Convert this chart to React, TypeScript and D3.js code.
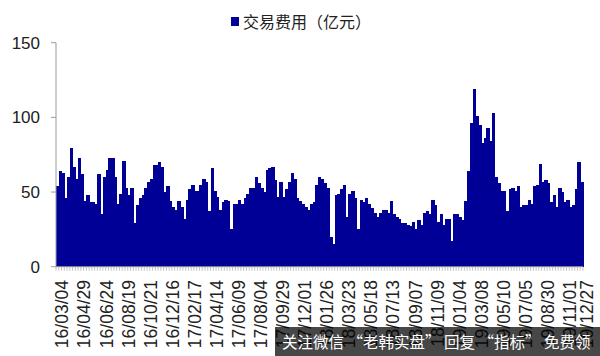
import React from "react";
import * as d3 from "d3";

const leftValues = [54,64,63,46,60,79.5,67,59,73,62,44,48,43,43,42,62,35,60,65,73,73,60,42,49,71,53,48,53,29,41,46,48,53,57,59,68,68,70,67,50,54,44,40,38,44,40,32,45,52,55,51,51,55,59,57,37,66,51,47,38,43,45,44,25,42,42,45,42,46,49,53,53,60,56,53,50,65,66,67,58,47,57,47,52,57,63,59,46];
const rightValues = [44,42,40,38,42,43,55,60,59,56,53,20,15,48,49,52,55,33,49,51,46,25,45,43,46,42,39,36,33,36,38,38,36,44,35,33,32,29,29,28,27,30,25,31,28,36,37,35,45,41,30,35,28,32,32,17,35,35,33,31,44,64,96,119,101,95,83,86,93,84,103,60,56,51,51,37,52,53,51,54,40,41,41,45,42,54,55,69,57,58,56,43,48,40,53,50,43,45,40,41,52,70,57];
const values = [...leftValues, ...rightValues];

const tickLabels = ["16/03/04","16/04/29","16/06/24","16/08/19","16/10/21","16/12/16","17/02/17","17/04/14","17/06/09","17/08/04","17/09/29","17/12/01","18/01/26","18/03/23","18/05/18","18/07/13","18/09/07","18/11/09","19/01/04","19/03/08","19/05/10","19/07/05","19/08/30","19/11/01","19/12/27"];
const yTicks = [0, 50, 100, 150];
const legendLabel = "交易费用（亿元）";
const watermark = "关注微信 “老韩实盘” 回复 “指标” 免费领";

export default function App() {
  const W = 600, H = 356;
  const left = 56, right = 583, top = 42.7, bottom = 266.7;
  const idx = values.map((_, i) => i);
  const x = d3.scaleBand<number>().domain(idx).range([left, right]).padding(0);
  const y = d3.scaleLinear().domain([0, 150]).range([bottom, top]);
  const bw = x.bandwidth();
  const labelIdx = tickLabels.map((_, k) => (k < tickLabels.length - 1 ? k * 8 : values.length - 1));
  const barColor = "#000096";
  const axisColor = "#9a9a9a";

  return (
    <svg width={W} height={H} style={{ position: "absolute", left: 0, top: 0, background: "#fff" }}>
      {/* legend */}
      <rect x={231} y={17} width={8} height={9} fill={barColor} />
      <text x={243} y={28} fontFamily="'Noto Sans CJK SC'" fontSize={16} fill="#222">{legendLabel}</text>

      {/* bars */}
      <g shapeRendering="crispEdges">
        {values.map((v, i) => (
          <rect key={i} x={x(i)!} y={y(v)} width={bw + 0.6} height={bottom - y(v)} fill={barColor} />
        ))}
      </g>

      {/* y axis */}
      <line x1={left} x2={left} y1={top} y2={bottom} stroke={axisColor} strokeWidth={1} />
      {yTicks.map((t) => (
        <g key={t}>
          <line x1={left - 5} x2={left} y1={y(t)} y2={y(t)} stroke={axisColor} />
          <text x={40} y={y(t)} dy="0.36em" textAnchor="end" fontFamily="'Liberation Sans', Arial" fontSize={17} fill="#222">{t}</text>
        </g>
      ))}

      {/* x axis */}
      <line x1={left} x2={right} y1={bottom} y2={bottom} stroke={axisColor} />
      {idx.concat([values.length]).map((i) => {
        const xx = i < values.length ? x(i)! : right;
        return <line key={"t" + i} x1={xx} x2={xx} y1={bottom} y2={bottom + 4} stroke={axisColor} strokeWidth={0.6} />;
      })}
      {tickLabels.map((lab, k) => {
        const cx = x(labelIdx[k])! + bw / 2 + 11;
        return (
          <text key={lab} transform={`translate(${cx},280) rotate(-90)`} textAnchor="end" fontFamily="'Liberation Sans', Arial" fontSize={17.5} fill="#222">{lab}</text>
        );
      })}

      {/* watermark banner */}
      <rect x={275} y={327} width={325} height={29} fill="#000" opacity={0.72} />
      <text x={282} y={348} fontFamily="'Noto Sans CJK SC'" fontSize={15.5} fill="#fff">{watermark}</text>
    </svg>
  );
}
